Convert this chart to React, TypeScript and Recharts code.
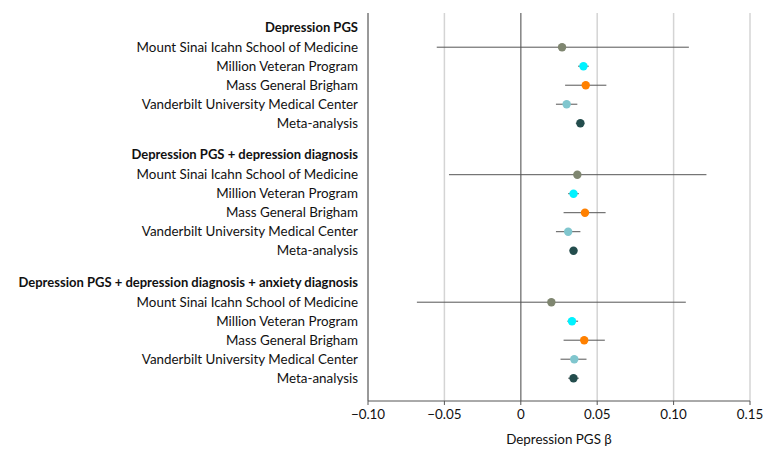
import { ScatterChart, Scatter, XAxis, YAxis, CartesianGrid, ErrorBar, ReferenceLine, Label } from 'recharts'

const groups = [
  'Depression PGS',
  'Depression PGS + depression diagnosis',
  'Depression PGS + depression diagnosis + anxiety diagnosis',
]

const cohorts = [
  'Mount Sinai Icahn School of Medicine',
  'Million Veteran Program',
  'Mass General Brigham',
  'Vanderbilt University Medical Center',
  'Meta-analysis',
]

const cohortColors = ['#7f8670', '#00f2ff', '#ff8000', '#80c6ce', '#234d4d']

// beta estimates, one row per model
const beta = [
  [0.027, 0.041, 0.0425, 0.030, 0.039],
  [0.037, 0.0345, 0.042, 0.031, 0.0345],
  [0.020, 0.0335, 0.0415, 0.035, 0.0345],
]

const ciLow = [
  [-0.055, 0.0375, 0.029, 0.023, 0.036],
  [-0.047, 0.031, 0.028, 0.023, 0.032],
  [-0.068, 0.0305, 0.028, 0.026, 0.031],
]

const ciHigh = [
  [0.110, 0.0445, 0.056, 0.037, 0.0415],
  [0.1215, 0.038, 0.0555, 0.039, 0.037],
  [0.108, 0.0375, 0.055, 0.043, 0.038],
]

const xTicks = [-0.1, -0.05, 0, 0.05, 0.1, 0.15]

// row layout (in row units)
const GROUP_STEP = 6.71
const HEADER_OFFSET = 0.75
const Y_MAX = 20.42

type Row = { pos: number; label: string; header: boolean }

const rows: Row[] = []
const points: any[] = []
groups.forEach((g, gi) => {
  const headerPos = HEADER_OFFSET + GROUP_STEP * gi
  rows.push({ pos: headerPos, label: g, header: true })
  cohorts.forEach((c, ci) => {
    const pos = headerPos + 1.05 + ci
    rows.push({ pos, label: c, header: false })
    const b = beta[gi][ci]
    points.push({
      beta: b,
      pos,
      err: [b - ciLow[gi][ci], ciHigh[gi][ci] - b],
      color: cohortColors[ci],
    })
  })
})

const fmtX = (v: number) => {
  if (v === 0) return '0'
  const s = Math.abs(v).toFixed(2)
  return v < 0 ? `\u2212${s}` : s
}

function RowTick(props: any) {
  const { x, y, payload } = props
  const row = rows.find(r => Math.abs(r.pos - payload.value) < 1e-6)
  if (!row) return null
  return (
    <text
      x={x}
      y={y}
      dy="0.35em"
      textAnchor="end"
      fontSize={row.header ? 13 : 13.4}
      fontWeight={row.header ? 700 : 400}
      fill="#111"
    >
      {row.label}
    </text>
  )
}

const Dot = (props: any) => (
  <circle cx={props.cx} cy={props.cy} r={4.2} fill={props.payload.color} />
)

export default function App() {
  return (
    <div style={{ position: 'absolute', left: 0, top: 0, fontFamily: 'Lato, sans-serif' }}>
      <ScatterChart width={780} height={456} margin={{ top: 13, right: 30, bottom: 0, left: 0 }}>
        <CartesianGrid horizontal={false} stroke="#d4d4d4" strokeWidth={1.5} verticalValues={xTicks} />
        <XAxis
          type="number"
          dataKey="beta"
          domain={[-0.1, 0.15]}
          ticks={xTicks}
          tickFormatter={fmtX}
          height={55}
          tickSize={4}
          tickMargin={4}
          stroke="#555"
          tick={{ fill: '#111', fontSize: 13.4 }}
        >
          <Label value="Depression PGS β" position="insideBottom" offset={12} fill="#111" fontSize={13.4} />
        </XAxis>
        <YAxis
          type="number"
          dataKey="pos"
          domain={[0, Y_MAX]}
          reversed
          ticks={rows.map(r => r.pos)}
          interval={0}
          width={368}
          tickLine={false}
          tickSize={0}
          tickMargin={10}
          stroke="#555"
          tick={<RowTick />}
        />
        <ReferenceLine x={0} stroke="#777" strokeWidth={1.2} />
        <Scatter data={points} shape={Dot} isAnimationActive={false}>
          <ErrorBar dataKey="err" direction="x" width={0} stroke="#555" strokeWidth={1} />
        </Scatter>
      </ScatterChart>
    </div>
  )
}
